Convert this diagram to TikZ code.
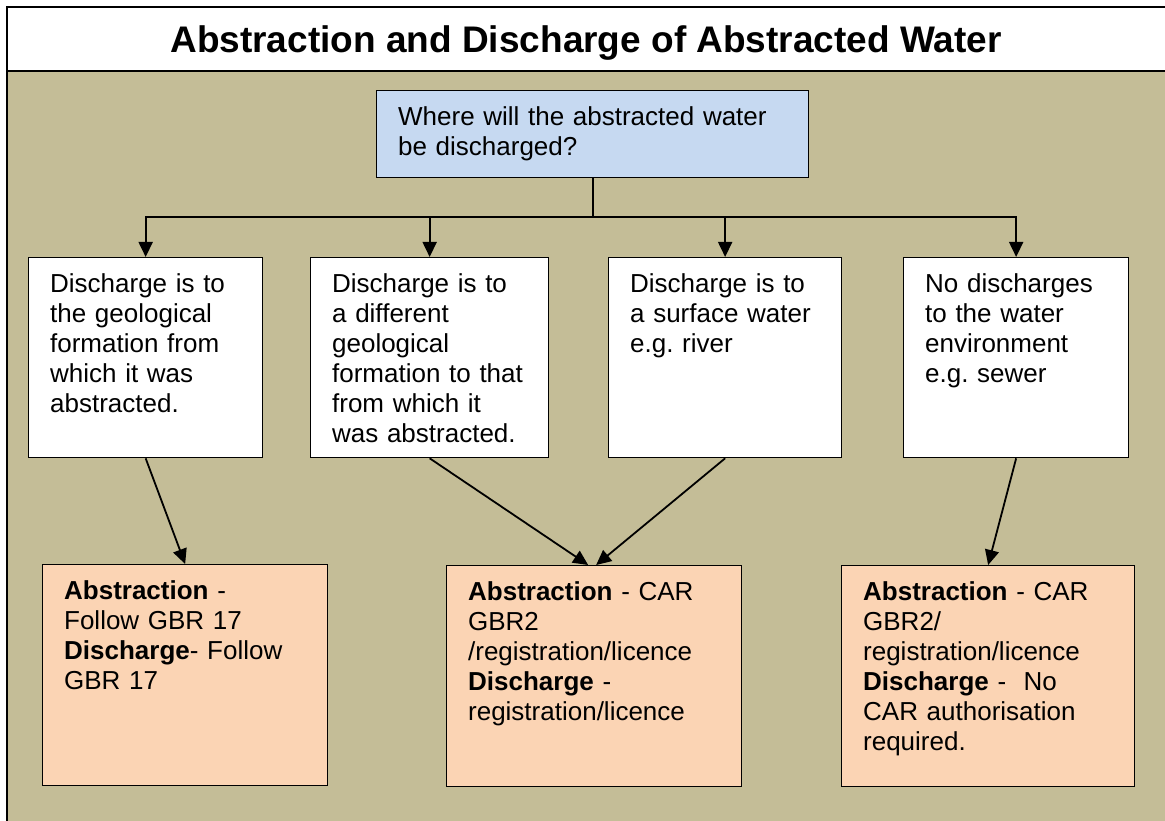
\documentclass[tikz,border=0pt]{standalone}
\usepackage{fontspec}
\setmainfont{Liberation Sans}
\frenchspacing
\usetikzlibrary{arrows.meta,positioning}
\definecolor{khaki}{HTML}{C4BD97}
\definecolor{qblue}{HTML}{C6D9F1}
\definecolor{peach}{HTML}{FBD4B4}
\tikzset{
    >={Triangle[length=15pt,width=14pt]}, % filled arrow heads
    box/.style={draw, line width=1.3pt, anchor=north west, align=left,
        inner xsep=21.5pt, inner ysep=16pt, text height=19pt,
        font=\fontsize{26}{30}\selectfont}, % text starts at the top of the box
    choice/.style={box, fill=white, text depth=149pt},
    outcome/.style={box, fill=peach, text depth=170pt},
    link/.style={->, line width=1.8pt},
}

\begin{document}
\begin{tikzpicture}[x=1pt, y=-1pt]
  \clip (0,0) rectangle (1165,821);
  % frame and title band
  \fill[khaki] (7,71) rectangle (1180,830);
  \draw[line width=1.3pt] (7,71) -- (1180,71);
  \draw[line width=2.3pt] (1180,7) -- (7,7) -- (7,830);
  \node[anchor=base, font=\fontsize{37}{44}\selectfont\bfseries] (title) at (586,53)
      {Abstraction and Discharge of Abstracted Water};

  % question
  \node[box, fill=qblue, text width=389pt, text depth=36pt] (where) at (376,90)
      {Where will the abstracted water\\be discharged?};

  % the four cases
  \node[choice, text width=191pt] (geo)  at (28,257)
      {Discharge is to\\the geological\\formation from\\which it was\\abstracted.};
  \node[choice, text width=195pt] (diff) at (310,257)
      {Discharge is to\\a different\\geological\\formation to that\\from which it\\was abstracted.};
  \node[choice, text width=190pt] (surf) at (608,257)
      {Discharge is to\\a surface water\\e.g. river};
  \node[choice, text width=182pt] (none) at (903,257)
      {No discharges\\to the water\\environment\\e.g. sewer};

  % what is needed
  \node[outcome, text width=242pt] (gbr) at (42,564)
      {\textbf{Abstraction} -\\Follow GBR 17\\\textbf{Discharge}- Follow\\GBR 17};
  \node[outcome, text width=252pt] (car) at (446,565)
      {\textbf{Abstraction} - CAR\\GBR2\\/registration/licence\\\textbf{Discharge} -\\registration/licence};
  \node[outcome, text width=250pt] (noauth) at (841,565)
      {\textbf{Abstraction} - CAR\\GBR2/\\registration/licence\\\textbf{Discharge} - \ No\\CAR authorisation\\required.};

  % connectors
  \coordinate (split) at ([yshift=-39pt]where.south);
  \draw[line width=1.8pt] (where.south) -- (split);
  \draw[line width=1.8pt, line cap=rect] (geo.north |- split) -- (none.north |- split);
  \foreach \n in {geo,diff,surf,none}
    \draw[link] (\n.north |- split) -- (\n.north);
  \draw[link] (geo.south)  -- (gbr.north);
  \draw[link] (diff.south) -- ([xshift=-6pt]car.north);
  \draw[link] (surf.south) -- ([xshift=2pt]car.north);
  \draw[link] (none.south) -- (noauth.north);
\end{tikzpicture}
\end{document}
